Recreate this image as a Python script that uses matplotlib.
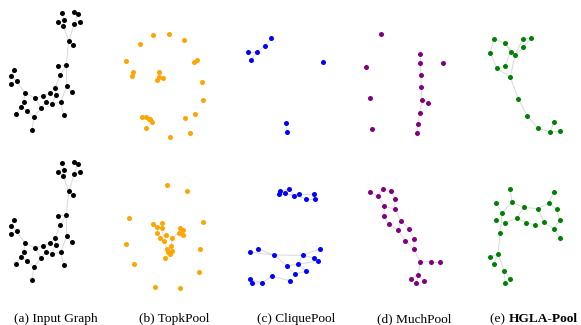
import matplotlib
matplotlib.use('Agg')  # noqa
import matplotlib.pyplot as plt

# node positions per panel, in panel pixel units (x right, y down)
input_x = [61.7, 58.3, 64.3, 63.3, 73.7, 77.7, 79.7, 74.3, 68.7, 72.7, 58.3, 66.3,
           60.3, 14, 11.3, 16.7, 11, 24.7, 66.7, 71.7, 54.7, 50, 56, 42.7, 35, 46.3,
           51.7, 60.7, 24, 21.3, 26.7, 41, 16.3, 33.7, 63.7, 32.3]
input_y = [13.3, 21.7, 20, 26, 11.7, 14, 21.7, 24.3, 41, 45.3, 65.7, 65.3, 75, 70.3,
           75.7, 81.3, 84, 92.7, 86.3, 92, 88.3, 93, 95.3, 96, 98, 101.7, 103.7, 102.3,
           102.3, 106.7, 111, 108, 114, 117, 115, 129.7]
input_edges = [(0, 2), (1, 3), (2, 3), (3, 8), (4, 5), (5, 7), (6, 7), (7, 8), (8, 9),
               (8, 11), (10, 11), (11, 12), (11, 18), (12, 20), (18, 19), (18, 27),
               (27, 34), (20, 21), (20, 22), (21, 23), (22, 26), (25, 26), (25, 31),
               (23, 24), (24, 17), (24, 31), (17, 15), (15, 14), (14, 13), (15, 16),
               (17, 28), (28, 29), (29, 30), (29, 32), (30, 33), (33, 31), (33, 35),
               (26, 27)]

topk1_x = [38.3, 54, 68.7, 25, 11.3, 79.3, 82.3, 18, 16.7, 43.7, 41.7, 44.3, 47.7,
           87.3, 88.3, 27.3, 31, 34.3, 35.3, 37, 69.7, 80.3, 31, 55.3, 74.7]
topk1_y = [34.7, 33.7, 39.7, 44, 61.3, 62, 59.7, 72.3, 75.7, 72.3, 80, 77.3, 78.3,
           81.7, 100.3, 117, 117, 118.7, 119, 122.3, 117.7, 114, 127.7, 137, 132.7]
topk1_edges = [(9, 11), (10, 11), (11, 12), (5, 6), (7, 8), (15, 16), (16, 17),
               (17, 18), (18, 19)]

topk2_x = [52, 72, 14, 88.3, 38, 46.7, 41.7, 47, 41.7, 51.3, 44.7, 57.3, 64.7, 67.7,
           63.7, 68, 49.3, 11.3, 55.7, 51.7, 56.7, 52.7, 55.3, 85, 49.7, 18.7, 83.7,
           39.7, 64.7]
topk2_y = [34.7, 41.3, 67.7, 72, 73.7, 72.7, 77.3, 78.3, 82.7, 84.7, 87.7, 87.7, 77.7,
           80, 83.3, 84.7, 91, 94.3, 96, 99, 100.7, 102.3, 104, 99, 107.7, 113.7, 122,
           137, 138]
topk2_edges = [(5, 7), (7, 16), (6, 8), (9, 11), (11, 14), (14, 12), (12, 13),
               (13, 15), (11, 18), (16, 19), (18, 20), (19, 21), (20, 22), (9, 16),
               (4, 6), (8, 10), (10, 16)]

clique1_x = [41.3, 35, 26.7, 18.3, 21, 93.3, 55.7, 57.3]
clique1_y = [38.3, 45.7, 52.3, 52.3, 59.7, 61.7, 123, 132.3]
clique1_edges = [(0, 1), (1, 2), (2, 3), (2, 4), (6, 7)]

clique2_x = [50.3, 59.3, 49.3, 54.7, 64.3, 69, 76, 84.3, 85.3, 20, 27.7, 43.7, 73,
             89.7, 84, 88, 56.7, 68, 76, 65.3, 41.7, 60, 19.7, 21.7, 32]
clique2_y = [41, 39.3, 44.3, 43.3, 46, 44.3, 48.7, 44.3, 48.7, 102, 98.7, 105, 105.3,
             98.7, 108, 111, 115.7, 114.3, 121, 124.3, 126.3, 130.7, 129.3, 133.3,
             132.7]
clique2_edges = [(0, 1), (0, 2), (1, 4), (2, 5), (3, 4), (3, 6), (5, 7), (6, 8),
                 (7, 8), (4, 5), (9, 11), (10, 11), (11, 16), (11, 12), (12, 13),
                 (12, 14), (14, 15), (16, 17), (17, 15), (17, 18), (16, 19), (20, 24),
                 (20, 21), (22, 23), (23, 24), (22, 24), (18, 19), (12, 17)]

much1_x = [35.7, 75.3, 75.3, 98.3, 21.3, 75.7, 76.3, 25, 77, 82.7, 74.7, 73, 27, 72]
much1_y = [33.7, 54, 63.3, 63, 66.7, 74.7, 87.3, 97.7, 100.3, 102.7, 112.7, 123.7,
           128.7, 133]
much1_edges = [(1, 2), (2, 5), (5, 6), (6, 8), (8, 9), (8, 10), (10, 11), (11, 13)]

much2_x = [25, 32.7, 38, 46, 49.7, 39.3, 50, 39, 43.7, 56, 53, 64.3, 60, 69, 68.7,
           75.3, 86, 95, 73.3, 65.7, 71.3, 79]
much2_y = [41.7, 46, 39.3, 40.7, 48.7, 56, 59.3, 65.7, 74.3, 71, 80.3, 78.7, 90.7,
           88.7, 99, 111.7, 112, 112, 125, 128.7, 133, 131.3]
much2_edges = [(0, 1), (1, 2), (2, 3), (3, 4), (4, 6), (1, 5), (5, 6), (5, 7), (7, 8),
               (8, 10), (6, 9), (9, 10), (9, 11), (10, 12), (11, 13), (13, 14),
               (12, 14), (14, 15), (15, 16), (16, 17), (15, 18), (18, 19), (18, 20),
               (18, 21)]

hgla1_x = [34, 45, 63.3, 71, 30, 50.7, 55, 63.3, 45, 37, 50.3, 58.3, 67.3, 78.3,
           93.7, 90.3, 100]
hgla1_y = [39, 43, 38.7, 38.3, 52.7, 52, 54.7, 47.3, 66, 68, 77.3, 99, 116, 128.3,
           122.3, 132, 131]
hgla1_edges = [(0, 1), (1, 5), (0, 4), (4, 9), (9, 10), (5, 8), (5, 6), (6, 7),
               (2, 3), (3, 7), (2, 6), (6, 10), (1, 6), (10, 11), (11, 12), (12, 13),
               (13, 15), (15, 16), (15, 14)]

hgla2_x = [50.3, 93.7, 36, 52, 88.7, 63.7, 78, 96.7, 42, 57, 36, 45, 66, 75, 83.7,
           99.7, 93.7, 100, 40.3, 38, 30, 33.7, 44.3, 50, 45.3]
hgla2_y = [39.3, 42.3, 53, 52.3, 53, 57.3, 58.7, 59.3, 62.7, 68, 70, 72.7, 73, 74.7,
           72, 70.3, 78.7, 88, 82.7, 104.3, 107, 114.3, 120.7, 129.3, 133.3]
hgla2_edges = [(0, 3), (3, 8), (2, 8), (3, 5), (5, 6), (6, 4), (4, 1), (4, 7),
               (7, 15), (15, 16), (16, 14), (14, 6), (16, 17), (5, 9), (9, 11),
               (9, 12), (12, 13), (8, 18), (18, 19), (19, 20), (19, 21), (19, 22),
               (22, 23), (22, 24)]

captions = ['(a) Input Graph', '(b) TopkPool', '(c) CliquePool', '(d) MuchPool']
last_prefix = '(e) '
last_name = 'HGLA-Pool'
colors = ['black', '#ffa500', '#0000ff', '#800080', '#008000']

rows = [
    [(input_x, input_y, input_edges), (topk1_x, topk1_y, topk1_edges),
     (clique1_x, clique1_y, clique1_edges), (much1_x, much1_y, much1_edges),
     (hgla1_x, hgla1_y, hgla1_edges)],
    [(input_x, input_y, input_edges), (topk2_x, topk2_y, topk2_edges),
     (clique2_x, clique2_y, clique2_edges), (much2_x, much2_y, much2_edges),
     (hgla2_x, hgla2_y, hgla2_edges)],
]

W, H = 581, 325
fig = plt.figure(figsize=(W / 100, H / 100), dpi=100)
pw, ph = 115, 150

for r, row in enumerate(rows):
    for c, (xs, ys, edges) in enumerate(row):
        x0, y0 = c * pw, r * ph
        ax = fig.add_axes([x0 / W, 1 - (y0 + ph) / H, pw / W, ph / H])
        for a, b in edges:
            ax.plot([xs[a], xs[b]], [ys[a], ys[b]], color='#d9d9d9', lw=0.7,
                    zorder=1, clip_on=False)
        ax.scatter(xs, ys, s=13, color=colors[c], zorder=2, clip_on=False,
                   linewidths=0)
        ax.set_xlim(0, pw)
        ax.set_ylim(ph, 0)
        ax.axis('off')

fs = 9.6
cap_x = [55.5, 174, 296.5, 414.5]
cap_y = 1 - 322 / H
for x, txt in zip(cap_x, captions):
    fig.text(x / W, cap_y, txt, ha='center', va='baseline',
             family='Liberation Serif', fontsize=fs)

# last caption: normal prefix + bold name, centred together
t1 = fig.text(0, cap_y, last_prefix, ha='left', va='baseline',
              family='Liberation Serif', fontsize=fs)
t2 = fig.text(0, cap_y, last_name, ha='left', va='baseline',
              family='Liberation Serif', fontsize=fs, weight='bold')
fig.canvas.draw()
w1 = t1.get_window_extent().width
w2 = t2.get_window_extent().width
start = 534 - (w1 + w2) / 2
t1.set_x(start / W)
t2.set_x((start + w1) / W)

plt.savefig('out.png', dpi=100)
